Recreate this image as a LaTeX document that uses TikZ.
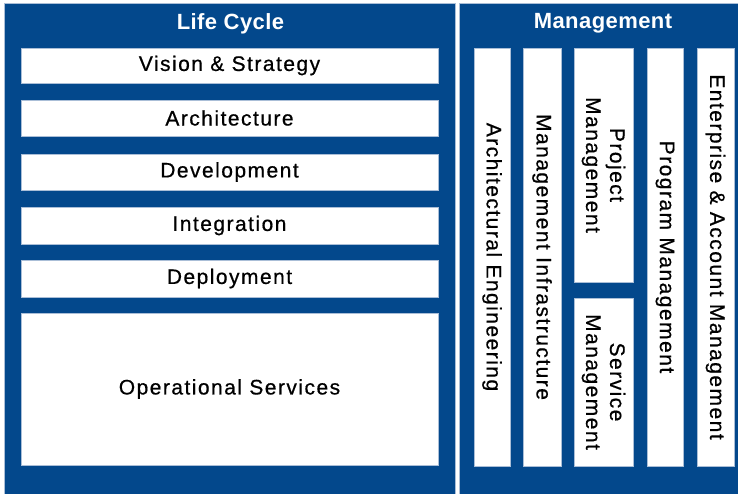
\documentclass[tikz,border=0pt]{standalone}
\usepackage{fontspec}
\setmainfont{Liberation Sans}[LetterSpace=7, FakeBold=0.6]
\newfontfamily\titlefont{Liberation Sans}[LetterSpace=2]
\definecolor{panelblue}{RGB}{3,72,140}
\definecolor{edgeline}{RGB}{170,190,215}
\tikzset{
  panel/.style={fill=panelblue, draw=edgeline, line width=0.6pt},
  wbox/.style={fill=white, draw=edgeline, line width=0.5pt, inner sep=0pt, text=black,
    font=\fontsize{15.75pt}{18pt}\selectfont, align=center},
  title/.style={text=white, inner sep=0pt, font=\titlefont\fontsize{16.5pt}{19pt}\selectfont\bfseries},
}
\begin{document}
\begin{tikzpicture}[x=0.75pt, y=-0.75pt]
\useasboundingbox (0,0) rectangle (738,493);
\fill[white] (0,0) rectangle (738,493);
% panels
\draw[panel] (4.5,3.5) rectangle (455,495);
\draw[panel] (459,3.5) rectangle (745,495);
\node[title] (lc) at (230.5,23.5) {Life Cycle};
\node[title] (mg) at (603,23.5) {Management};
% life cycle boxes
\node[wbox, minimum width=417*0.75pt, minimum height=35*0.75pt] (vis) at (229.5,65.5) {\raisebox{-1pt}{Vision \& Strategy}};
\node[wbox, minimum width=417*0.75pt, minimum height=36*0.75pt] (arch) at (229.5,118) {\raisebox{-1pt}{Architecture}};
\node[wbox, minimum width=417*0.75pt, minimum height=36*0.75pt] (dev) at (229.5,172) {\raisebox{-1pt}{Development}};
\node[wbox, minimum width=417*0.75pt, minimum height=37*0.75pt] (integ) at (229.5,225.5) {\raisebox{-1pt}{Integration}};
\node[wbox, minimum width=417*0.75pt, minimum height=37*0.75pt] (depl) at (229.5,278.5) {\raisebox{-1pt}{Deployment}};
\node[wbox, minimum width=417*0.75pt, minimum height=152*0.75pt] (oper) at (229.5,389) {Operational Services};
% management columns
\node[wbox, rotate=-90, minimum width=418*0.75pt, minimum height=36*0.75pt] (ae) at (492,257) {Architectural Engineering};
\node[wbox, rotate=-90, minimum width=418*0.75pt, minimum height=38*0.75pt] (mi) at (542,257) {Management Infrastructure};
\node[wbox, rotate=-90, minimum width=234*0.75pt, minimum height=59*0.75pt] (pm) at (603.5,165) {Project\\Management};
\node[wbox, rotate=-90, minimum width=168*0.75pt, minimum height=59*0.75pt] (sm) at (603.5,382) {Service\\Management};
\node[wbox, rotate=-90, minimum width=418*0.75pt, minimum height=36*0.75pt] (prm) at (665,257) {Program Management};
\node[wbox, rotate=-90, minimum width=418*0.75pt, minimum height=37*0.75pt] (eam) at (715.5,257) {Enterprise \& Account Management};
\end{tikzpicture}
\end{document}
